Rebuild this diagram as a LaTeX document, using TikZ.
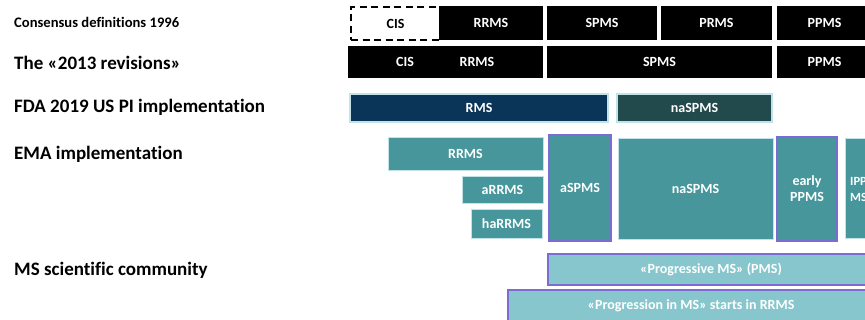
\documentclass[tikz,border=0pt]{standalone}
\usepackage{fontspec}
\setmainfont[Ligatures=NoCommon]{Carlito}
\definecolor{navy}{HTML}{0B3558}
\definecolor{darkteal}{HTML}{224A4C}
\definecolor{teal}{HTML}{46969C}
\definecolor{lightcyan}{HTML}{87C6CD}
\definecolor{paleedge}{HTML}{BFE3E8}
\definecolor{purp}{HTML}{7C6BD0}
\tikzset{
  bx/.style={anchor=north west, inner sep=0pt, outer sep=0pt, text=white, font=\bfseries\fontsize{14}{16}\selectfont},
  blk/.style={bx, fill=black},
  dashbox/.style={bx, draw=black, line width=2pt, dash pattern=on 7pt off 4.5pt, text=black},
  rmsbox/.style={bx, fill=navy, draw=paleedge, line width=1.5pt},
  dtbox/.style={bx, fill=darkteal, draw=paleedge, line width=1.5pt},
  tbox/.style={bx, fill=teal, draw=paleedge, line width=0.8pt},
  tpbox/.style={bx, fill=teal, draw=purp, line width=1.5pt},
  lcbox/.style={bx, fill=lightcyan, draw=purp, line width=1.5pt},
  lbl/.style={anchor=west, inner sep=0pt, font=\bfseries\fontsize{19}{22}\selectfont},
  txt/.style={inner sep=0pt, text=white, font=\bfseries\fontsize{14}{16}\selectfont},
}
\begin{document}
\begin{tikzpicture}[x=1pt,y=-1pt]
\useasboundingbox (0,0) rectangle (865,320);
\fill[white] (0,0) rectangle (865,320);
\clip (0,0) rectangle (865,320);
% left labels
\node[lbl, font=\bfseries\fontsize{14.6}{17}\selectfont] (l1) at (14,22) {Consensus definitions 1996};
\node[lbl] (l2) at (14,63) {The «2013 revisions»};
\node[lbl] (l3) at (14,107) {FDA 2019 US PI implementation};
\node[lbl] (l4) at (14,154) {EMA implementation};
\node[lbl] (l5) at (14,270) {MS scientific community};
% row 1
\node[dashbox, minimum width=89pt, minimum height=33pt] (cis1) at (351,7) {CIS};
\node[blk, minimum width=104pt, minimum height=34pt] (rrms1) at (439,6) {RRMS};
\node[blk, minimum width=110pt, minimum height=34pt] (spms1) at (547,6) {SPMS};
\node[blk, minimum width=111pt, minimum height=34pt] (prms1) at (661,6) {PRMS};
\node[blk, minimum width=95pt, minimum height=34pt] (ppms1) at (777,6) {PPMS};
% row 2
\node[blk, minimum width=195pt, minimum height=32pt] (cr2) at (348,46) {};
\node[txt] (cis2) at (405,62) {CIS};
\node[txt] (rrms2) at (477,62) {RRMS};
\node[blk, minimum width=225pt, minimum height=32pt] (spms2) at (547,46) {SPMS};
\node[blk, minimum width=95pt, minimum height=32pt] (ppms2) at (777,46) {PPMS};
% row 3
\node[rmsbox, minimum width=258pt, minimum height=28pt] (rms3) at (350,94) {RMS};
\node[dtbox, minimum width=155pt, minimum height=28pt] (naspms3) at (617,94) {naSPMS};
% row 4
\node[tbox, minimum width=155pt, minimum height=33pt] (rrms4) at (388,137) {RRMS};
\node[tbox, minimum width=81pt, minimum height=27pt] (arrms4) at (462,176) {aRRMS};
\node[tbox, minimum width=71pt, minimum height=29pt] (harrms4) at (471,209) {haRRMS};
\node[tpbox, minimum width=62pt, minimum height=106pt] (aspms4) at (549,135) {aSPMS};
\node[tbox, minimum width=155pt, minimum height=101pt] (naspms4) at (618,138) {naSPMS};
\node[tpbox, minimum width=60pt, minimum height=104pt, align=center] (eppms4) at (777,137) {early\\PPMS};
\node[tbox, minimum width=40pt, minimum height=100pt] (lppms4) at (845,138) {};
\node[txt, anchor=west, align=left, font=\bfseries\fontsize{12.5}{16}\selectfont] (lppmst) at (850,189) {IPP\\MS};
% row 5
\node[lcbox, minimum width=326pt, minimum height=31pt, text=white] (pms5) at (548,254) {«Progressive MS» (PMS)};
\node[lcbox, minimum width=366pt, minimum height=32pt, text=white] (prog5) at (508,290) {«Progression in MS» starts in RRMS};
\end{tikzpicture}
\end{document}
